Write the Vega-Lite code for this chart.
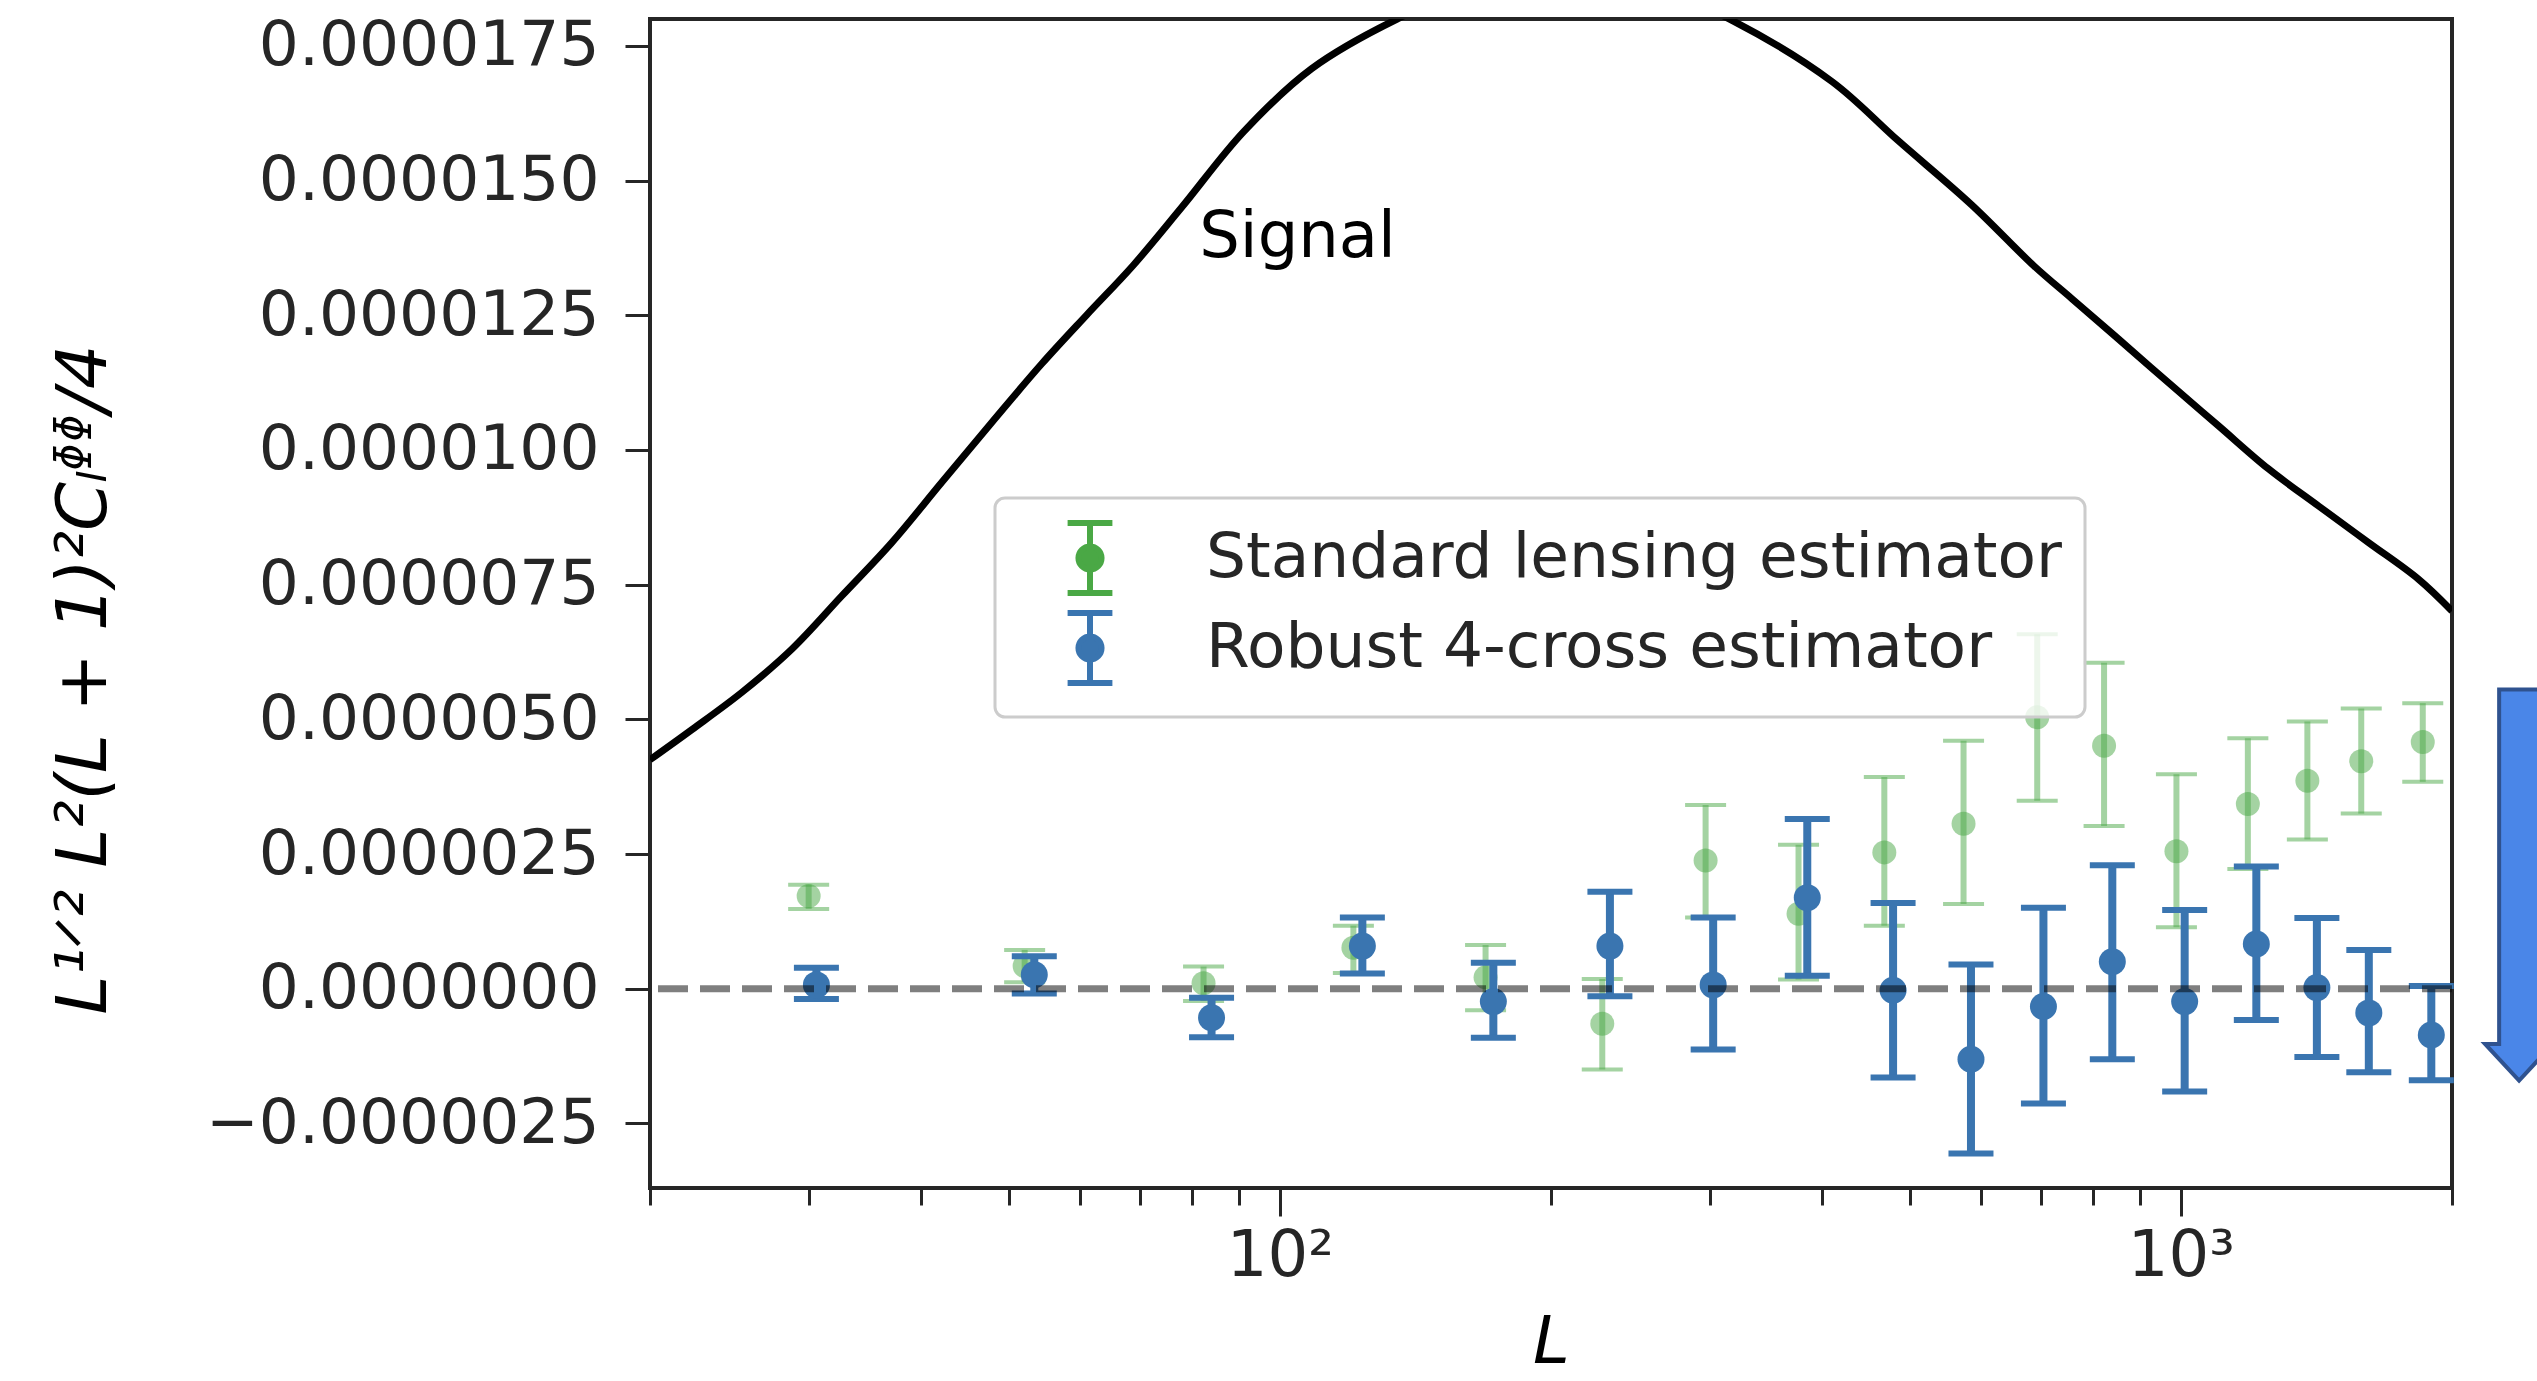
{
  "$schema": "https://vega.github.io/schema/vega-lite/v6.json",
  "autosize": {"type": "none"},
  "padding": {"left": 650, "top": 19, "right": 85, "bottom": 193},
  "width": 1802,
  "height": 1169,
  "background": "white",
  "datasets": {
    "signal": [
      {"L": 20.0, "v": 4.25e-6}, {"L": 22.26, "v": 4.81e-6}, {"L": 25.29, "v": 5.50e-6},
      {"L": 28.73, "v": 6.30e-6}, {"L": 32.65, "v": 7.29e-6}, {"L": 37.1, "v": 8.28e-6},
      {"L": 42.16, "v": 9.40e-6}, {"L": 47.9, "v": 10.51e-6}, {"L": 54.43, "v": 11.60e-6},
      {"L": 61.0, "v": 12.50e-6}, {"L": 68.7, "v": 13.42e-6}, {"L": 77.8, "v": 14.50e-6},
      {"L": 91.2, "v": 15.91e-6}, {"L": 108.5, "v": 17.08e-6}, {"L": 135, "v": 18.0e-6},
      {"L": 165, "v": 18.6e-6}, {"L": 207, "v": 18.85e-6}, {"L": 260, "v": 18.6e-6},
      {"L": 318, "v": 17.97e-6}, {"L": 410, "v": 16.84e-6}, {"L": 485, "v": 15.75e-6},
      {"L": 586, "v": 14.55e-6}, {"L": 686.8, "v": 13.42e-6}, {"L": 756.8, "v": 12.81e-6},
      {"L": 852.8, "v": 12.06e-6}, {"L": 969, "v": 11.25e-6}, {"L": 1101, "v": 10.45e-6},
      {"L": 1251, "v": 9.65e-6}, {"L": 1422, "v": 8.96e-6}, {"L": 1616, "v": 8.28e-6},
      {"L": 1836, "v": 7.60e-6}, {"L": 2000, "v": 7.01e-6}
    ],
    "points": [
      {"series": "Standard lensing estimator", "L": 30.0, "v": 1.72e-6, "lo": 1.48e-6, "hi": 1.93e-6},
      {"series": "Standard lensing estimator", "L": 52.1, "v": 0.42e-6, "lo": 0.12e-6, "hi": 0.72e-6},
      {"series": "Standard lensing estimator", "L": 82.3, "v": 0.10e-6, "lo": -0.23e-6, "hi": 0.41e-6},
      {"series": "Standard lensing estimator", "L": 120.7, "v": 0.76e-6, "lo": 0.29e-6, "hi": 1.17e-6},
      {"series": "Standard lensing estimator", "L": 169.2, "v": 0.21e-6, "lo": -0.40e-6, "hi": 0.81e-6},
      {"series": "Standard lensing estimator", "L": 228, "v": -0.65e-6, "lo": -1.50e-6, "hi": 0.18e-6},
      {"series": "Standard lensing estimator", "L": 296.9, "v": 2.38e-6, "lo": 1.32e-6, "hi": 3.41e-6},
      {"series": "Standard lensing estimator", "L": 376.5, "v": 1.39e-6, "lo": 0.17e-6, "hi": 2.67e-6},
      {"series": "Standard lensing estimator", "L": 468.8, "v": 2.53e-6, "lo": 1.17e-6, "hi": 3.93e-6},
      {"series": "Standard lensing estimator", "L": 574, "v": 3.06e-6, "lo": 1.57e-6, "hi": 4.60e-6},
      {"series": "Standard lensing estimator", "L": 692.9, "v": 5.04e-6, "lo": 3.49e-6, "hi": 6.58e-6},
      {"series": "Standard lensing estimator", "L": 822, "v": 4.51e-6, "lo": 3.02e-6, "hi": 6.05e-6},
      {"series": "Standard lensing estimator", "L": 989, "v": 2.55e-6, "lo": 1.14e-6, "hi": 3.98e-6},
      {"series": "Standard lensing estimator", "L": 1187, "v": 3.43e-6, "lo": 2.22e-6, "hi": 4.65e-6},
      {"series": "Standard lensing estimator", "L": 1382, "v": 3.86e-6, "lo": 2.77e-6, "hi": 4.96e-6},
      {"series": "Standard lensing estimator", "L": 1586, "v": 4.22e-6, "lo": 3.25e-6, "hi": 5.20e-6},
      {"series": "Standard lensing estimator", "L": 1856, "v": 4.58e-6, "lo": 3.84e-6, "hi": 5.30e-6},
      {"series": "Robust 4-cross estimator", "L": 30.6, "v": 0.07e-6, "lo": -0.19e-6, "hi": 0.39e-6},
      {"series": "Robust 4-cross estimator", "L": 53.4, "v": 0.26e-6, "lo": -0.09e-6, "hi": 0.60e-6},
      {"series": "Robust 4-cross estimator", "L": 84.0, "v": -0.54e-6, "lo": -0.90e-6, "hi": -0.17e-6},
      {"series": "Robust 4-cross estimator", "L": 123.5, "v": 0.79e-6, "lo": 0.28e-6, "hi": 1.32e-6},
      {"series": "Robust 4-cross estimator", "L": 172.6, "v": -0.24e-6, "lo": -0.91e-6, "hi": 0.48e-6},
      {"series": "Robust 4-cross estimator", "L": 232.5, "v": 0.79e-6, "lo": -0.14e-6, "hi": 1.80e-6},
      {"series": "Robust 4-cross estimator", "L": 302.7, "v": 0.07e-6, "lo": -1.13e-6, "hi": 1.32e-6},
      {"series": "Robust 4-cross estimator", "L": 385, "v": 1.69e-6, "lo": 0.24e-6, "hi": 3.15e-6},
      {"series": "Robust 4-cross estimator", "L": 479.4, "v": -0.03e-6, "lo": -1.65e-6, "hi": 1.59e-6},
      {"series": "Robust 4-cross estimator", "L": 585, "v": -1.31e-6, "lo": -3.06e-6, "hi": 0.45e-6},
      {"series": "Robust 4-cross estimator", "L": 704, "v": -0.33e-6, "lo": -2.13e-6, "hi": 1.50e-6},
      {"series": "Robust 4-cross estimator", "L": 839.5, "v": 0.50e-6, "lo": -1.31e-6, "hi": 2.29e-6},
      {"series": "Robust 4-cross estimator", "L": 1010, "v": -0.24e-6, "lo": -1.91e-6, "hi": 1.46e-6},
      {"series": "Robust 4-cross estimator", "L": 1213, "v": 0.83e-6, "lo": -0.58e-6, "hi": 2.27e-6},
      {"series": "Robust 4-cross estimator", "L": 1416, "v": 0.02e-6, "lo": -1.27e-6, "hi": 1.31e-6},
      {"series": "Robust 4-cross estimator", "L": 1617, "v": -0.45e-6, "lo": -1.55e-6, "hi": 0.72e-6},
      {"series": "Robust 4-cross estimator", "L": 1897, "v": -0.86e-6, "lo": -1.70e-6, "hi": 0.05e-6}
    ],
    "notes": [{"L": 81.4, "v": 13.58e-6, "label": "Signal"}],
    "arrow": [{"L": 2374, "v": 1.924e-6}]
  },
  "layer": [
    {
      "data": {"name": "signal"},
      "mark": {"type": "line", "color": "black", "strokeWidth": 7, "clip": true, "interpolate": "catmull-rom"},
      "encoding": {
        "x": {
          "field": "L", "type": "quantitative",
          "scale": {"type": "log", "domain": [20, 2000], "nice": false},
          "axis": {
            "values": [20, 30, 40, 50, 60, 70, 80, 90, 100, 200, 300, 400, 500, 600, 700, 800, 900, 1000, 2000],
            "labelExpr": "datum.value == 100 ? '10²' : (datum.value == 1000 ? '10³' : '')",
            "labelFontSize": 64,
            "labelPadding": 8,
            "labelFlush": false,
            "labelOverlap": false,
            "tickSize": {"condition": {"test": "datum.value == 100 || datum.value == 1000", "value": 28}, "value": 17},
            "title": "L",
            "titleFontSize": 66,
            "titleFontStyle": "italic",
            "titleFontWeight": "normal",
            "titleColor": "black",
            "titleX": 901,
            "titleY": 174,
            "titleAlign": "center",
            "titleBaseline": "alphabetic"
          }
        },
        "y": {
          "field": "v", "type": "quantitative",
          "scale": {"domain": [-3.7e-6, 1.8e-5], "nice": false, "zero": false},
          "axis": {
            "values": [-2.5e-6, 0, 2.5e-6, 5e-6, 7.5e-6, 1e-5, 1.25e-5, 1.5e-5, 1.75e-5],
            "format": ".7f",
            "labelFontSize": 63,
            "labelPadding": 26,
            "labelLimit": 1000,
            "tickSize": 25,
            "title": "L¹ᐟ² L²(L + 1)²Cₗᶲᶲ/4",
            "titleFontSize": 70,
            "titleFontStyle": "italic",
            "titleFontWeight": "normal",
            "titleColor": "black",
            "titleAngle": 270,
            "titleX": -545,
            "titleY": 660,
            "titleAlign": "center",
            "titleBaseline": "alphabetic",
            "titleLimit": 2000
          }
        }
      }
    },
    {
      "data": {"name": "notes"},
      "mark": {"type": "text", "align": "left", "baseline": "alphabetic", "fontSize": 64, "font": "DejaVu Sans", "color": "black"},
      "encoding": {
        "x": {"field": "L", "type": "quantitative"},
        "y": {"field": "v", "type": "quantitative"},
        "text": {"field": "label"}
      }
    },
    {
      "data": {"name": "points"},
      "transform": [{"filter": "datum.series === 'Standard lensing estimator'"}],
      "layer": [
        {
          "mark": {"type": "rule", "strokeWidth": 6, "opacity": 0.5},
          "encoding": {
            "x": {"field": "L", "type": "quantitative"},
            "y": {"field": "lo", "type": "quantitative"},
            "y2": {"field": "hi"},
            "color": {"field": "series", "type": "nominal", "title": null,
              "scale": {"domain": ["Standard lensing estimator", "Robust 4-cross estimator"], "range": ["#4aa845", "#3a75b0"]}
            }
          }
        },
        {
          "mark": {"type": "tick", "orient": "horizontal", "size": 41, "thickness": 4, "opacity": 0.5},
          "encoding": {
            "x": {"field": "L", "type": "quantitative"},
            "y": {"field": "lo", "type": "quantitative"},
            "color": {"field": "series", "type": "nominal"}
          }
        },
        {
          "mark": {"type": "tick", "orient": "horizontal", "size": 41, "thickness": 4, "opacity": 0.5},
          "encoding": {
            "x": {"field": "L", "type": "quantitative"},
            "y": {"field": "hi", "type": "quantitative"},
            "color": {"field": "series", "type": "nominal"}
          }
        },
        {
          "mark": {"type": "point", "filled": true, "size": 576, "opacity": 0.5},
          "encoding": {
            "x": {"field": "L", "type": "quantitative"},
            "y": {"field": "v", "type": "quantitative"},
            "color": {"field": "series", "type": "nominal"}
          }
        }
      ]
    },
    {
      "data": {"name": "points"},
      "transform": [{"filter": "datum.series === 'Robust 4-cross estimator'"}],
      "layer": [
        {
          "mark": {"type": "rule", "strokeWidth": 8, "opacity": 1},
          "encoding": {
            "x": {"field": "L", "type": "quantitative"},
            "y": {"field": "lo", "type": "quantitative"},
            "y2": {"field": "hi"},
            "color": {"field": "series", "type": "nominal"}
          }
        },
        {
          "mark": {"type": "tick", "orient": "horizontal", "size": 45, "thickness": 6, "opacity": 1},
          "encoding": {
            "x": {"field": "L", "type": "quantitative"},
            "y": {"field": "lo", "type": "quantitative"},
            "color": {"field": "series", "type": "nominal"}
          }
        },
        {
          "mark": {"type": "tick", "orient": "horizontal", "size": 45, "thickness": 6, "opacity": 1},
          "encoding": {
            "x": {"field": "L", "type": "quantitative"},
            "y": {"field": "hi", "type": "quantitative"},
            "color": {"field": "series", "type": "nominal"}
          }
        },
        {
          "mark": {"type": "point", "filled": true, "size": 729, "opacity": 1},
          "encoding": {
            "x": {"field": "L", "type": "quantitative"},
            "y": {"field": "v", "type": "quantitative"},
            "color": {"field": "series", "type": "nominal"}
          }
        }
      ]
    },
    {
      "data": {"values": [{}]},
      "mark": {"type": "rule", "color": "black", "opacity": 0.5, "strokeWidth": 7, "strokeDash": [30, 12]},
      "encoding": {"y": {"datum": 0}}
    },
    {
      "data": {"name": "arrow"},
      "mark": {"type": "point", "filled": true, "clip": false, "size": 152881,
        "shape": "M-0.102,-1L0.102,-1L0.102,0.813L0.174,0.813L0,1L-0.174,0.813L-0.102,0.813Z",
        "fill": "#4a86e8", "stroke": "#2f528f", "strokeWidth": 4, "opacity": 1},
      "encoding": {
        "x": {"field": "L", "type": "quantitative"},
        "y": {"field": "v", "type": "quantitative"}
      }
    }
  ],
  "config": {
    "font": "DejaVu Sans",
    "view": {"stroke": "#262626", "strokeWidth": 4},
    "axis": {
      "grid": false,
      "domain": false,
      "labelFont": "DejaVu Sans",
      "titleFont": "DejaVu Sans",
      "labelColor": "#262626",
      "tickColor": "#262626",
      "tickWidth": 3
    },
    "legend": {
      "orient": "none",
      "legendX": 345,
      "legendY": 479,
      "padding": 22,
      "symbolType": "M0,-1L0,1M-0.64,-1L0.64,-1M-0.64,1L0.64,1M0.33,0A0.33,0.33,0,1,1,-0.33,0A0.33,0.33,0,1,1,0.33,0Z",
      "symbolSize": 4900,
      "symbolOffset": 35,
      "symbolStrokeWidth": 6,
      "symbolOpacity": 1,
      "labelOffset": 78,
      "rowPadding": -4,
      "labelFontSize": 63,
      "labelFont": "DejaVu Sans",
      "labelColor": "#262626",
      "labelLimit": 2000,
      "fillColor": "rgba(255,255,255,0.8)",
      "strokeColor": "#cccccc",
      "cornerRadius": 10,
      "strokeWidth": 3
    }
  }
}
